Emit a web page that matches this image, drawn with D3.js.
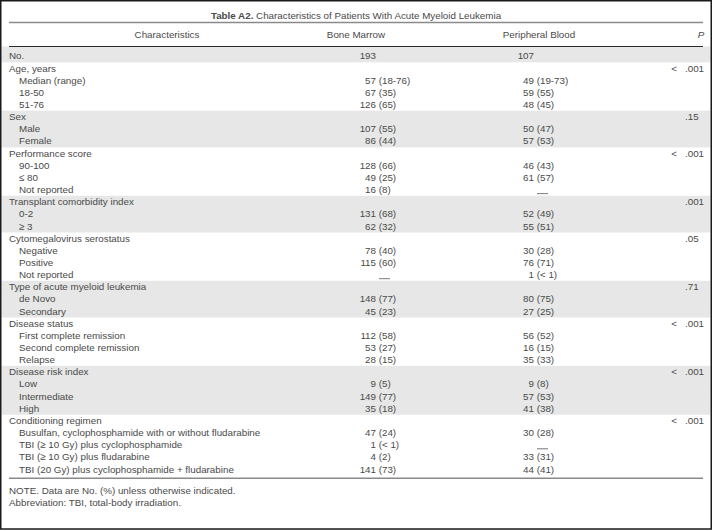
<!DOCTYPE html>
<html>
<head>
<meta charset="utf-8">
<script src="https://cdn.jsdelivr.net/npm/d3@7"></script>
<style>
  html, body { margin: 0; padding: 0; background: #fff; }
  svg { display: block; }
  text { font-family: "Liberation Sans", Arial, sans-serif; font-size: 9.8px; fill: #4a4a4a; }
</style>
</head>
<body>
<svg id="chart" width="712" height="531"></svg>
<script>
// ---- data ----
const titleBold = "Table A2.";
const titleRest = " Characteristics of Patients With Acute Myeloid Leukemia";
const headers = ["Characteristics", "Bone Marrow", "Peripheral Blood", "P"];

const rowLabels = [
  "No.",
  "Age, years", "Median (range)", "18-50", "51-76",
  "Sex", "Male", "Female",
  "Performance score", "90-100", "\u2264 80", "Not reported",
  "Transplant comorbidity index", "0-2", "\u2265 3",
  "Cytomegalovirus serostatus", "Negative", "Positive", "Not reported",
  "Type of acute myeloid leukemia", "de Novo", "Secondary",
  "Disease status", "First complete remission", "Second complete remission", "Relapse",
  "Disease risk index", "Low", "Intermediate", "High",
  "Conditioning regimen",
  "Busulfan, cyclophosphamide with or without fludarabine",
  "TBI (\u2265 10 Gy) plus cyclophosphamide",
  "TBI (\u2265 10 Gy) plus fludarabine",
  "TBI (20 Gy) plus cyclophosphamide + fludarabine"
];
// 0 = group heading, 1 = indented sub-row
const rowLevel = [0, 0,1,1,1, 0,1,1, 0,1,1,1, 0,1,1, 0,1,1,1, 0,1,1, 0,1,1,1, 0,1,1,1, 0,1,1,1,1];
const rowGroup = [0, 1,1,1,1, 2,2,2, 3,3,3,3, 4,4,4, 5,5,5,5, 6,6,6, 7,7,7,7, 8,8,8,8, 9,9,9,9,9];

const boneMarrow = [
  "193",
  "", "57 (18-76)", "67 (35)", "126 (65)",
  "", "107 (55)", "86 (44)",
  "", "128 (66)", "49 (25)", "16 (8)",
  "", "131 (68)", "62 (32)",
  "", "78 (40)", "115 (60)", "\u2014",
  "", "148 (77)", "45 (23)",
  "", "112 (58)", "53 (27)", "28 (15)",
  "", "9 (5)", "149 (77)", "35 (18)",
  "", "47 (24)", "1 (< 1)", "4 (2)", "141 (73)"
];
const peripheralBlood = [
  "107",
  "", "49 (19-73)", "59 (55)", "48 (45)",
  "", "50 (47)", "57 (53)",
  "", "46 (43)", "61 (57)", "\u2014",
  "", "52 (49)", "55 (51)",
  "", "30 (28)", "76 (71)", "1 (< 1)",
  "", "80 (75)", "27 (25)",
  "", "56 (52)", "16 (15)", "35 (33)",
  "", "9 (8)", "57 (53)", "41 (38)",
  "", "30 (28)", "\u2014", "33 (31)", "44 (41)"
];
const pValues = [
  "",
  "< .001", "", "", "",
  ".15", "", "",
  "< .001", "", "", "",
  ".001", "", "",
  ".05", "", "", "",
  ".71", "", "",
  "< .001", "", "", "",
  "< .001", "", "", "",
  "< .001", "", "", "", ""
];
const notes = [
  "NOTE. Data are No. (%) unless otherwise indicated.",
  "Abbreviation: TBI, total-body irradiation."
];

// ---- layout ----
const W = 712, H = 531;
const svg = d3.select("#chart");

const rowStep = 12.15, firstCenter = 56;
const y = d3.scaleBand().domain(d3.range(rowLabels.length))
  .range([firstCenter - rowStep / 2, firstCenter - rowStep / 2 + rowStep * rowLabels.length]);
const colX = { label: 9, indent: 19, bmEnd: 376, pbEnd: 534, pDot: 685 };
const headerLineY = 46.5;

// shading
svg.append("g").selectAll("rect")
  .data(d3.range(rowLabels.length).filter(i => rowGroup[i] % 2 === 0))
  .join("rect")
  .attr("x", 1.5).attr("width", W - 3)
  .attr("y", i => i === 0 ? headerLineY : y(i))
  .attr("height", i => (i === 0 ? y(i) - headerLineY : 0) + y.bandwidth() + 0.3)
  .attr("fill", "#e6e7e6");

// title
const title = svg.append("text").attr("x", W / 2).attr("y", 15.5).attr("dy", "0.35em").attr("text-anchor", "middle");
title.append("tspan").attr("font-weight", "bold").text(titleBold);
title.append("tspan").text(titleRest);

// rules
const lastBottom = y(rowLabels.length - 1) + y.bandwidth();
svg.append("line").attr("x1", 9).attr("x2", 703).attr("y1", 22.5).attr("y2", 22.5).attr("stroke", "#8a8a8a").attr("stroke-width", 1.6);
svg.append("line").attr("x1", 9).attr("x2", 703).attr("y1", headerLineY).attr("y2", headerLineY).attr("stroke", "#2a2a2a").attr("stroke-width", 1.1);
svg.append("line").attr("x1", 9).attr("x2", 703).attr("y1", lastBottom + 3).attr("y2", lastBottom + 3).attr("stroke", "#8a8a8a").attr("stroke-width", 1.6);

// headers
const hy = 35;
const headerX = [167, 356, 539, 701];
svg.append("g").selectAll("text").data(headers).join("text")
  .attr("x", (d, i) => headerX[i]).attr("y", hy).attr("dy", "0.35em")
  .attr("text-anchor", "middle")
  .attr("font-style", (d, i) => i === 3 ? "italic" : null)
  .text(d => d);

const cy = i => y(i) + y.bandwidth() / 2;

// labels
svg.append("g").selectAll("text").data(rowLabels).join("text")
  .attr("x", (d, i) => rowLevel[i] ? colX.indent : colX.label)
  .attr("y", (d, i) => cy(i)).attr("dy", "0.35em")
  .text(d => d);

// value columns: count right-aligned, remainder left-aligned
function drawValues(values, endX) {
  const g = svg.append("g");
  values.forEach((v, i) => {
    if (!v) return;
    if (v === "\u2014") {
      g.append("line")
        .attr("x1", endX + 3).attr("x2", endX + 14)
        .attr("y1", cy(i) + 4).attr("y2", cy(i) + 4)
        .attr("stroke", "#555").attr("stroke-width", 0.8);
      return;
    }
    const m = v.match(/^(\S+)(\s.*)?$/);
    g.append("text").attr("x", endX).attr("y", cy(i)).attr("dy", "0.35em")
      .attr("text-anchor", "end").text(m[1]);
    if (m[2]) {
      g.append("text").attr("x", endX + 2.7).attr("y", cy(i)).attr("dy", "0.35em")
        .text(m[2].trim());
    }
  });
}
drawValues(boneMarrow, colX.bmEnd);
drawValues(peripheralBlood, colX.pbEnd);

// P values aligned on decimal point
const pg = svg.append("g");
pValues.forEach((v, i) => {
  if (!v) return;
  const idx = v.indexOf(".");
  const pre = v.slice(0, idx).trim();
  const post = v.slice(idx);
  pg.append("text").attr("x", colX.pDot).attr("y", cy(i)).attr("dy", "0.35em").text(post);
  if (pre) pg.append("text").attr("x", colX.pDot - 8).attr("y", cy(i)).attr("dy", "0.35em")
    .attr("text-anchor", "end").text(pre);
});

// notes
svg.append("g").selectAll("text").data(notes).join("text")
  .attr("x", 9).attr("y", (d, i) => lastBottom + 15 + i * 12).attr("dy", "0.35em").text(d => d);

// frame
svg.append("rect").attr("x", 0.75).attr("y", 0.75).attr("width", W - 1.5).attr("height", 529 - 0.75)
  .attr("fill", "none").attr("stroke", "#1a1a1a").attr("stroke-width", 1.5);
</script>
</body>
</html>
